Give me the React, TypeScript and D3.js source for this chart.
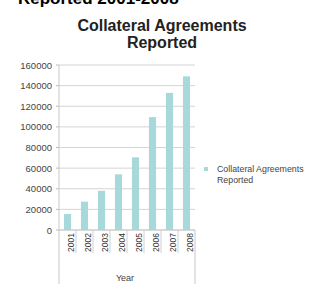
import React from 'react';
import * as d3 from 'd3';

const years = ['2001', '2002', '2003', '2004', '2005', '2006', '2007', '2008'];
const agreements = [15500, 27500, 38000, 54000, 70500, 109500, 133000, 149000];
const yTicks = [0, 20000, 40000, 60000, 80000, 100000, 120000, 140000, 160000];

const App = () => {
    const width = 315;
    const height = 284;
    const plot = { left: 59, right: 195, top: 65, bottom: 230 };

    const x = d3.scaleBand()
        .domain(years)
        .range([plot.left, plot.right])
        .paddingInner(0.58)
        .paddingOuter(0.29);

    const y = d3.scaleLinear()
        .domain([0, 160000])
        .range([plot.bottom, plot.top]);

    const step = x.step();
    const font = 'Arial, "Liberation Sans", sans-serif';

    return (
        <svg width={width} height={height}
            style={{ position: 'absolute', left: 0, top: 0, background: '#fff' }}
            fontFamily={font}>
            {/* slide heading, cut off at the top edge */}
            <text x={18} y={4} fontSize={17} fontWeight="bold" fill="#000">Reported 2001-2008</text>

            <text x={162} y={31} textAnchor="middle" fontSize={16} fontWeight="bold" fill="#222">Collateral Agreements</text>
            <text x={162} y={48} textAnchor="middle" fontSize={16} fontWeight="bold" fill="#222">Reported</text>

            {yTicks.map(t => (
                <g key={t}>
                    <line x1={plot.left} x2={plot.right} y1={y(t)} y2={y(t)} stroke="#d4d4d4" strokeWidth={1} />
                    <line x1={plot.left - 3} x2={plot.left} y1={y(t)} y2={y(t)} stroke="#bbb" />
                    <text x={52} y={y(t) + 3.5} textAnchor="end" fontSize={9.5} fill="#444">{t}</text>
                </g>
            ))}

            {years.map((yr, i) => (
                <rect key={yr}
                    x={x(yr)}
                    y={y(agreements[i])}
                    width={x.bandwidth()}
                    height={plot.bottom - y(agreements[i])}
                    fill="#a8d9da" />
            ))}

            {/* axis lines and category separators */}
            <line x1={plot.left} x2={plot.left} y1={plot.top} y2={height} stroke="#c8c8c8" />
            <line x1={plot.right} x2={plot.right} y1={plot.bottom} y2={height} stroke="#c8c8c8" />
            <line x1={plot.left} x2={plot.right} y1={plot.bottom} y2={plot.bottom} stroke="#c8c8c8" />
            {years.slice(1).map((yr, i) => (
                <line key={yr} x1={plot.left + step * (i + 1)} x2={plot.left + step * (i + 1)}
                    y1={plot.bottom} y2={253} stroke="#d0d0d0" />
            ))}

            {years.map(yr => {
                const cx = (x(yr) as number) + x.bandwidth() / 2 + 6;
                return (
                    <text key={yr} transform={`translate(${cx},${plot.bottom + 3}) rotate(-90)`}
                        textAnchor="end" fontSize={8.5} fill="#333">{yr}</text>
                );
            })}

            <text x={125} y={281} textAnchor="middle" fontSize={9} fill="#444">Year</text>

            <rect x={204} y={167} width={4} height={4} fill="#a8d9da" />
            <text x={217} y={172} fontSize={8.8} fill="#444">Collateral Agreements</text>
            <text x={217} y={183} fontSize={8.8} fill="#444">Reported</text>
        </svg>
    );
};

export default App;
